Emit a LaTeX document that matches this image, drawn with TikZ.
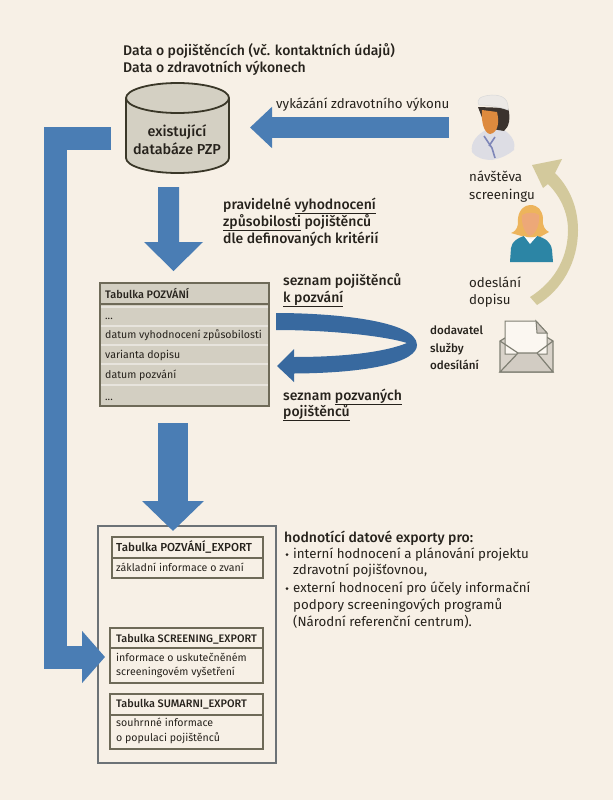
\documentclass[tikz,border=0pt]{standalone}
\usepackage{fontspec}
\setmainfont[BoldFont={Fira Sans Medium}]{Fira Sans}
\usetikzlibrary{arrows.meta,shapes.geometric}
\definecolor{bgc}{HTML}{F7F0E6}
\definecolor{blueA}{HTML}{4A7DB4}
\definecolor{blueB}{HTML}{38699F}
\definecolor{tan}{HTML}{D3C99C}
\definecolor{dbfill}{HTML}{D4D0C3}
\definecolor{dbline}{HTML}{3A3728}
\definecolor{tabfill}{HTML}{D3CFC2}
\definecolor{tabline}{HTML}{6E6A58}
\definecolor{outerc}{HTML}{6C7276}
\definecolor{txt}{HTML}{26221C}
\tikzset{
  x=1pt,y=-1pt,
  blockS/.style={draw=blueA,line width=21pt,-{Triangle[width=40pt,length=22pt]}},
  blockW/.style={draw=blueA,line width=30pt,-{Triangle[width=60pt,length=30pt]}},
  elbow/.style={draw=blueA,line width=23pt,-{Triangle[width=51pt,length=23pt]},line join=miter},
  lab/.style={anchor=base west,inner sep=0pt,text=txt,font=\fontsize{14}{14}\selectfont\bfseries},
  reg/.style={anchor=base west,inner sep=0pt,text=txt,font=\fontsize{13.3}{14}\selectfont},
  small/.style={anchor=base west,inner sep=0pt,text=txt,font=\fontsize{11.6}{12}\selectfont\bfseries},
  tabt/.style={anchor=base west,inner sep=0pt,text=txt,font=\fontsize{10.6}{12}\selectfont},
  tabb/.style={anchor=base west,inner sep=0pt,text=txt,font=\fontsize{10.9}{12}\selectfont\bfseries},
  expbox/.style={draw=tabline,line width=1.7pt}
}
\newcommand{\un}[1]{\underline{#1}}
\begin{document}
\begin{tikzpicture}
\useasboundingbox (0,0) rectangle (613,800);
\fill[bgc] (0,0) rectangle (613,800);

% coordinates of block connectors
\coordinate (visitEnd) at (449,127.5);
\coordinate (dbIn) at (250,127.5);
\coordinate (tabOut) at (173,423);
\coordinate (expIn) at (173,531);
\coordinate (elbowStart) at (111,138);
\coordinate (elbowCorner) at (55.5,138);
\coordinate (elbowLow) at (55.5,657);
\coordinate (elbowTip) at (105,657);

% outer box under arrow tips
\node[draw=outerc,line width=1.7pt,minimum width=178pt,minimum height=237pt,inner sep=0pt,anchor=north west] (outer) at (97,525) {};

% blue block arrows
\draw[blockS] (visitEnd) -- (dbIn);
\path[fill=blueA] (158,187) -- (179,187) -- (179,242) -- (203,242) -- (173.5,271) -- (144,242) -- (158,242) -- cycle;
\draw[blockW] (tabOut) -- (expIn);
\draw[elbow] (elbowStart) -- (elbowCorner) -- (elbowLow) -- (elbowTip);

% curved blue arrow
\path[fill=blueB] (276,313) .. controls (330,313) and (417,320) .. (417,345)
  .. controls (417,362) and (370,373) .. (294,373.5) -- (294,382) -- (277,366) -- (294,349) -- (294,357)
  .. controls (345,357) and (385,352) .. (407,343)
  .. controls (385,336) and (330,330) .. (276,330) -- cycle;

% tan curved arrow
\path[fill=tan] (530,297) .. controls (557,280) and (568,255) .. (568,230)
  .. controls (568,212) and (560,196) .. (548,184) -- (543,188) -- (532,165) -- (562,159) -- (555,173)
  .. controls (570,188) and (578,208) .. (578,230)
  .. controls (578,262) and (562,290) .. (537,305) -- cycle;

% database
\node[inner sep=0pt,minimum width=103pt,minimum height=91pt] (db) at (177.5,127.5) {};
\path[fill=dbfill,draw=dbline,line width=1.8pt] (126,98) -- (126,158) arc[start angle=180,end angle=0,x radius=51.5,y radius=15] -- (229,98) arc[start angle=0,end angle=-180,x radius=51.5,y radius=15] -- cycle;
\path[draw=dbline,line width=1.8pt] (126,98) arc[start angle=180,end angle=0,x radius=51.5,y radius=15];
\node[lab,anchor=base,font=\fontsize{14.4}{15}\selectfont\bfseries] (dbA) at (177,136) {existující};
\node[lab,anchor=base,font=\fontsize{14.4}{15}\selectfont\bfseries] (dbB) at (177,154) {databáze PZP};

% Tabulka POZVANI
\path[fill=tabfill,draw=tabline,line width=1.7pt] (100,283) rectangle (269,406);
\draw[tabline,line width=2pt] (100,304) -- (269,304);
\foreach \yy in {307,326,345,364,385} \draw[white!45!tabfill,line width=1.2pt] (101,\yy) -- (268,\yy);
\node[tabb] (t1) at (105,298) {Tabulka POZVÁNÍ};
\node[tabt] (t2) at (105,319) {...};
\node[tabt] (t3) at (105,338) {datum vyhodnocení způsobilosti};
\node[tabt] (t4) at (105,358) {varianta dopisu};
\node[tabt] (t5) at (105,378) {datum pozvání};
\node[tabt] (t6) at (105,400) {...};

% export tables
\draw[expbox] (112,537) rectangle (263,578); \draw[expbox] (112,558) -- (263,558);
\draw[expbox] (110,628) rectangle (263,683); \draw[expbox] (110,648) -- (263,648);
\draw[expbox] (110,694) rectangle (263,749); \draw[expbox] (110,715) -- (263,715);
\node[tabb,font=\fontsize{11.6}{12}\selectfont\bfseries] (e1) at (116,551) {Tabulka POZVÁNÍ\_EXPORT};
\node[tabt] (e2) at (116,571) {základní informace o zvaní};
\node[tabb] (e3) at (116,642) {Tabulka SCREENING\_EXPORT};
\node[tabt] (e4) at (116,661) {informace o uskutečněném};
\node[tabt] (e5) at (116,675) {screeningovém vyšetření};
\node[tabb] (e6) at (116,707) {Tabulka SUMARNI\_EXPORT};
\node[tabt] (e7) at (116,726) {souhrnné informace};
\node[tabt] (e8) at (116,741) {o populaci pojištěnců};

% labels
\node[lab] (a1) at (123,55.5) {Data o pojištěncích (vč. kontaktních údajů)};
\node[lab] (a2) at (123,72.5) {Data o zdravotních výkonech};
\node[reg] (a3) at (276,108) {vykázání zdravotního výkonu};
\node[lab] (b1) at (223,209) {pravidelné \un{vyhodnocení}};
\node[lab] (b2) at (223,226) {\un{způsobilosti} pojištěnců};
\node[lab] (b3) at (223,243) {dle definovaných kritérií};
\node[lab] (c1) at (283,285) {seznam pojištěnců};
\node[lab] (c2) at (283,302) {\un{k pozvání}};
\node[lab] (c3) at (283,400) {seznam \un{pozvaných}};
\node[lab] (c4) at (283,416) {\un{pojištěnců}};
\node[small] (d1) at (430,334) {dodavatel};
\node[small] (d2) at (430,352) {služby};
\node[small] (d3) at (430,369) {odesílání};
\node[reg] (v1) at (469,181) {návštěva};
\node[reg] (v2) at (469,199) {screeningu};
\node[reg] (o1) at (469,287) {odeslání};
\node[reg] (o2) at (469,304) {dopisu};
\node[lab] (h0) at (284,542) {hodnotící datové exporty pro:};
\fill[txt] (287,554.5) circle (1.5);
\fill[txt] (287,588.5) circle (1.5);
\node[reg] (h1) at (293,558) {interní hodnocení a plánování projektu};
\node[reg] (h2) at (293,574) {zdravotní pojišťovnou,};
\node[reg] (h3) at (293,592) {externí hodnocení pro účely informační};
\node[reg] (h4) at (293,609) {podpory screeningových programů};
\node[reg] (h5) at (293,626) {(Národní referenční centrum).};

% nurse icon
\definecolor{nbody}{HTML}{DDDDE4}
\definecolor{nhat}{HTML}{ECE9E6}
\definecolor{nhair}{HTML}{3B332E}
\definecolor{nface}{HTML}{DD8A3E}
\definecolor{nsteth}{HTML}{7E86B8}
\path[fill=nbody] (472,152) .. controls (470,142) and (478,134) .. (486,130) -- (504,130) .. controls (512,135) and (516,143) .. (514,150) .. controls (508,155) and (502,158) .. (492,160) .. controls (484,160) and (476,158) .. (472,152) -- cycle;
\path[fill=nhair] (478,107) -- (508,108) .. controls (511,118) and (509,127) .. (504,131) -- (486,128) -- cycle;
\path[fill=nface] (482,110) -- (497,112) .. controls (500,124) and (497,133) .. (490,134) .. controls (484,133) and (481,122) .. (482,110) -- cycle;
\path[fill=nhat,draw=black!15,line width=.5pt] (479,105) .. controls (476,99) and (480,96) .. (492,95) .. controls (504,95) and (509,100) .. (508,110) .. controls (500,107) and (488,105) .. (479,105) -- cycle;
\draw[nsteth,line width=1.6pt] (484,136) -- (492,148) -- (495,158);
\draw[nsteth,line width=1.6pt] (495,137) -- (489,146);

% woman icon
\definecolor{whair}{HTML}{EDB45C}
\definecolor{wface}{HTML}{EDA878}
\definecolor{wbody}{HTML}{2C85A5}
\path[fill=whair] (530,205) .. controls (520,206) and (517,216) .. (518,224) .. controls (517,230) and (514,232) .. (511,233) -- (525,237) -- (540,237) -- (549,232) .. controls (545,230) and (542,226) .. (543,218) .. controls (542,210) and (538,205) .. (530,205) -- cycle;
\path[fill=wface] (522,215) .. controls (527,212) and (535,212) .. (539,215) .. controls (540,224) and (536,234) .. (530,236) .. controls (525,234) and (521,224) .. (522,215) -- cycle;
\path[fill=wbody] (510,262) -- (511,248) .. controls (512,241) and (518,238) .. (524,236) -- (530,243) -- (537,236) .. controls (545,238) and (551,242) .. (552,250) -- (553,262) -- cycle;
\path[fill=white!80!bgc] (524,236) -- (530,244) -- (537,236) -- (531,239) -- cycle;

% envelope icon
\definecolor{eline}{HTML}{7F7F73}
\path[fill=black!12!bgc,draw=eline,line width=1.2pt] (500,341) -- (500,372) -- (553,372) -- (553,341) -- (527,325) -- cycle;
\path[fill=white!45!bgc,draw=eline,line width=1pt] (505,354) -- (505,321) -- (536,321) -- (547,333) -- (547,354) -- cycle;
\path[fill=black!18!bgc,draw=eline,line width=1pt] (536,321) -- (537,333) -- (547,333) -- cycle;
\path[fill=black!15!bgc,draw=eline,line width=1.2pt] (500,372) -- (518,353) -- (537,353) -- (553,372) -- cycle;
\draw[eline,line width=1.2pt] (500,341) -- (518,353) (553,341) -- (537,353);
\end{tikzpicture}
\end{document}
